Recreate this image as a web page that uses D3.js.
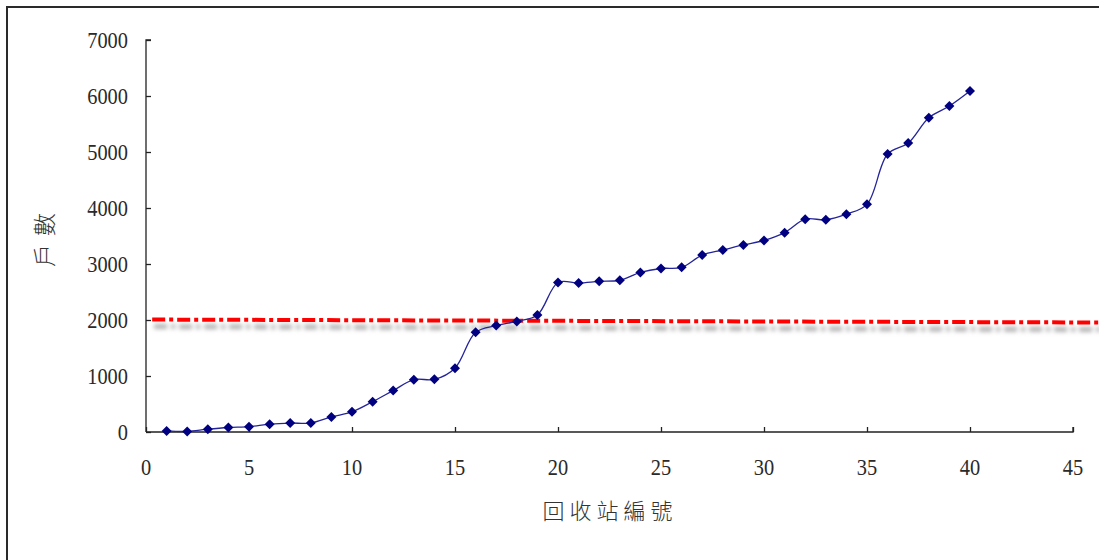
<!DOCTYPE html>
<html>
<head>
<meta charset="utf-8">
<script src="https://cdn.jsdelivr.net/npm/d3@7"></script>
<style>
  html, body { margin: 0; padding: 0; background: #fff; }
  svg { display: block; }
</style>
</head>
<body>
<svg id="chart" width="1099" height="560"></svg>
<script>
// Station numbers and household counts per recycling station
const stations = [1,2,3,4,5,6,7,8,9,10,11,12,13,14,15,16,17,18,19,20,
                  21,22,23,24,25,26,27,28,29,30,31,32,33,34,35,36,37,38,39,40];
const households = [20,10,50,80,95,140,160,160,270,360,540,740,935,940,1140,1780,1900,1975,2090,2670,
                    2660,2690,2710,2850,2920,2940,3160,3250,3340,3420,3560,3800,3790,3890,4065,4964,5160,5613,5821,6089];

// Axis tick values
const xTicks = [0,5,10,15,20,25,30,35,40,45];
const yTicks = [0,1000,2000,3000,4000,5000,6000,7000];

// Reference line around 2000 households (endpoints in data units)
const refX = [0.3, 46.3];
const refY = [2008, 1955];

const svg = d3.select("#chart");
const W = 1099, H = 560;

// outer frame (top and left edges)
svg.append("path")
  .attr("d", `M7,${H} L7,7 L${W},7`)
  .attr("fill", "none")
  .attr("stroke", "#2a2a2a")
  .attr("stroke-width", 2);

const x = d3.scaleLinear().domain([0, 45]).range([146, 1073]);
const y = d3.scaleLinear().domain([0, 7000]).range([432, 40]);

const numFont = "'Liberation Serif', 'DejaVu Serif', serif";

// defs: blur for reference-line shadow
const defs = svg.append("defs");
defs.append("filter").attr("id", "soft")
  .attr("x", "-5%").attr("y", "-300%").attr("width", "110%").attr("height", "700%")
  .append("feGaussianBlur").attr("stdDeviation", 2);

// Y axis
const yAxis = svg.append("g")
  .attr("transform", `translate(${x(0)},0)`)
  .call(d3.axisRight(y).tickValues(yTicks).tickSize(5).tickFormat(""));
yAxis.select(".domain").attr("d", `M5,${y(7000)}H0V${y(0)}`).attr("stroke", "#222").attr("stroke-width", 1.3);
yAxis.selectAll(".tick line").attr("stroke", "#222").attr("stroke-width", 1.3);

svg.append("g").selectAll("text")
  .data(yTicks)
  .join("text")
  .attr("transform", d => `translate(128,${y(d) + 8}) scale(0.85,1)`)
  .attr("text-anchor", "end")
  .attr("font-family", numFont)
  .attr("font-size", 24)
  .attr("fill", "#2a2a2a")
  .text(d => d);

// X axis
const xAxis = svg.append("g")
  .attr("transform", `translate(0,${y(0)})`)
  .call(d3.axisTop(x).tickValues(xTicks).tickSize(5).tickFormat(""));
xAxis.select(".domain").attr("d", `M${x(0)},0H${x(45)}V-5`).attr("stroke", "#222").attr("stroke-width", 1.3);
xAxis.selectAll(".tick line").attr("stroke", "#222").attr("stroke-width", 1.3);

svg.append("g").selectAll("text")
  .data(xTicks)
  .join("text")
  .attr("transform", d => `translate(${x(d)},475) scale(0.85,1)`)
  .attr("text-anchor", "middle")
  .attr("font-family", numFont)
  .attr("font-size", 24)
  .attr("fill", "#2a2a2a")
  .text(d => d);

// Axis titles
svg.append("text")
  .attr("x", 610).attr("y", 519)
  .attr("text-anchor", "middle")
  .attr("font-family", "'Noto Sans CJK TC', 'Noto Sans CJK SC', sans-serif")
  .attr("font-weight", 300)
  .attr("font-size", 22)
  .attr("letter-spacing", 5)
  .attr("fill", "#333")
  .text("回收站編號");

svg.append("text")
  .attr("transform", "translate(53,236) rotate(-90)")
  .attr("text-anchor", "middle")
  .attr("font-family", "'Noto Sans CJK TC', 'Noto Sans CJK SC', sans-serif")
  .attr("font-weight", 300)
  .attr("font-size", 23)
  .attr("letter-spacing", 8)
  .attr("fill", "#333")
  .text("戶數");

// Reference line with soft shadow
const refPts = refX.map((v, i) => [x(v), y(refY[i])]);
const refLine = d3.line();
svg.append("path")
  .attr("d", refLine(refPts.map(p => [p[0] + 2, p[1] + 7])))
  .attr("fill", "none")
  .attr("stroke", "#b4b4b4")
  .attr("stroke-width", 5)
  .attr("stroke-dasharray", "13,4,4,4")
  .attr("filter", "url(#soft)");
svg.append("path")
  .attr("d", refLine(refPts))
  .attr("fill", "none")
  .attr("stroke", "#ff0000")
  .attr("stroke-width", 4)
  .attr("stroke-dasharray", "13,4,4,4");

// Data series: smoothed line with diamond markers
const pts = stations.map((s, i) => [s, households[i]]);
svg.append("path")
  .datum(pts)
  .attr("d", d3.line().x(d => x(d[0])).y(d => y(d[1])).curve(d3.curveCatmullRom.alpha(0.5)))
  .attr("fill", "none")
  .attr("stroke", "#24249a")
  .attr("stroke-width", 1.3);

const r = 5;
svg.append("g").selectAll("path")
  .data(pts)
  .join("path")
  .attr("d", d => {
    const cx = x(d[0]), cy = y(d[1]);
    return `M${cx},${cy - r}L${cx + r},${cy}L${cx},${cy + r}L${cx - r},${cy}Z`;
  })
  .attr("fill", "#000080");
</script>
</body>
</html>
